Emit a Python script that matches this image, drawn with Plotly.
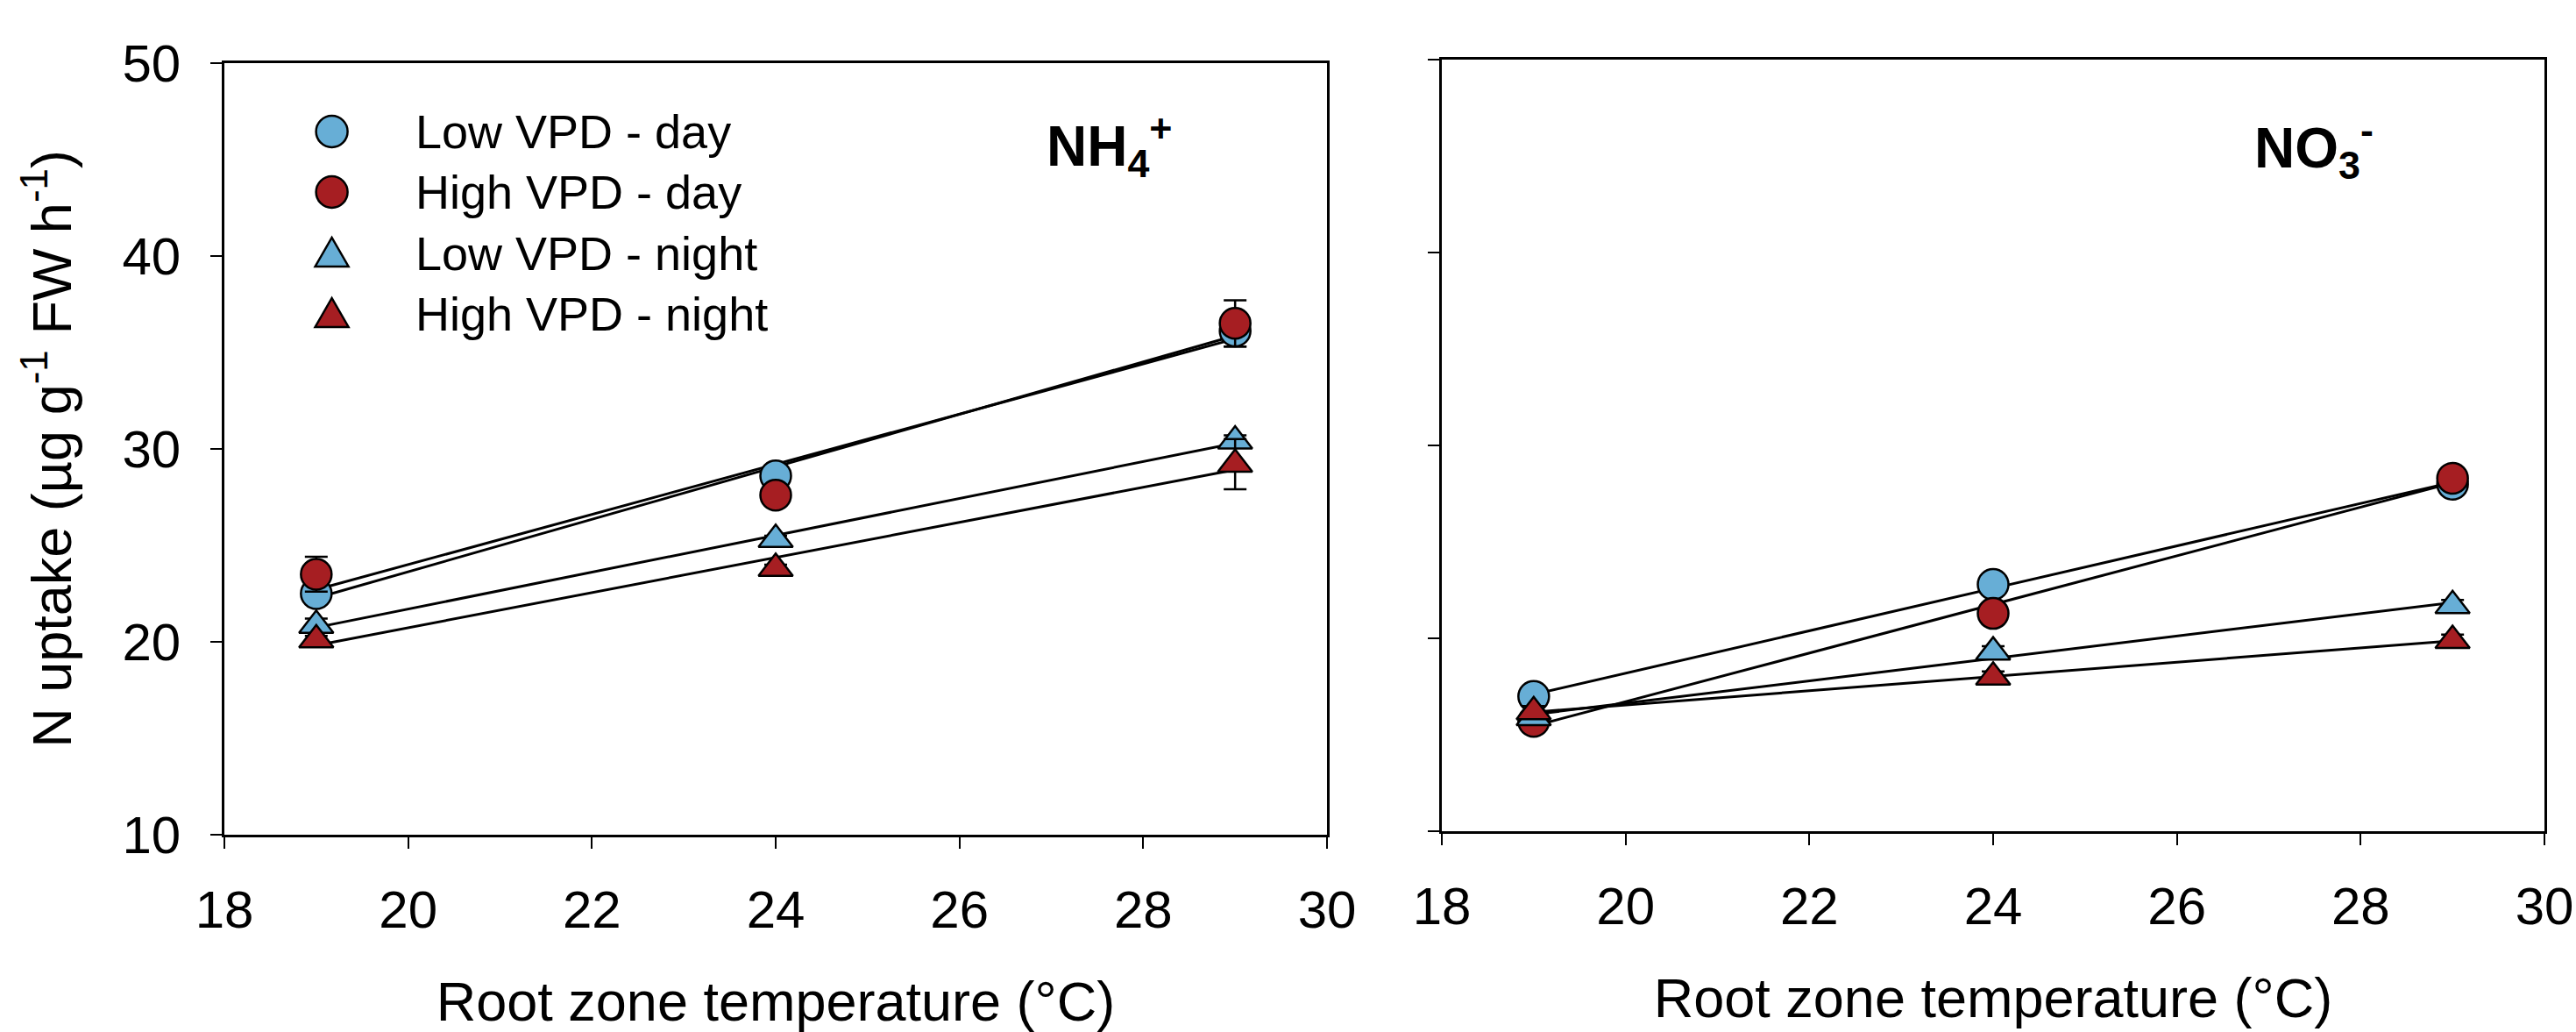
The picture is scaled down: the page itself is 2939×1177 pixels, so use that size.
import numpy as np
import plotly.graph_objects as go

# ---------------- data ----------------
temps = [19, 24, 29]
series_names = ["Low VPD - day", "High VPD - day", "Low VPD - night", "High VPD - night"]

# NH4+ panel
nh4_low_day = [22.5, 28.6, 36.1]
nh4_high_day = [23.5, 27.6, 36.5]
nh4_low_night = [20.85, 25.3, 30.4]
nh4_high_night = [20.1, 23.8, 29.2]
nh4_low_day_err = [0.3, 0.3, 0.8]
nh4_high_day_err = [0.9, 0.3, 1.2]
nh4_low_night_err = [0.35, 0.2, 0.3]
nh4_high_night_err = [0.2, 0.2, 1.3]

# NO3- panel
no3_low_day = [17.0, 22.8, 28.0]
no3_high_day = [15.7, 21.3, 28.3]
no3_low_night = [15.9, 19.3, 21.7]
no3_high_night = [16.2, 18.0, 19.9]
no3_low_day_err = [0.2, 0.2, 0.2]
no3_high_day_err = [0.2, 0.2, 0.2]
no3_low_night_err = [0.3, 0.3, 0.3]
no3_high_night_err = [0.3, 0.3, 0.3]

x_ticks = [18, 20, 22, 24, 26, 28, 30]
y_ticks = [10, 20, 30, 40, 50]

# ---------------- style ----------------
BLUE = "#67AED6"
RED = "#A61E22"
FONT = "Liberation Sans, Arial, sans-serif"
W, H = 2939, 1177

styles = [
    dict(color=BLUE, symbol="circle", size=35),
    dict(color=RED, symbol="circle", size=35),
    dict(color=BLUE, symbol="triangle-up", size=34),
    dict(color=RED, symbol="triangle-up", size=34),
]

panels = [
    ("x", "y", [nh4_low_day, nh4_high_day, nh4_low_night, nh4_high_night],
     [nh4_low_day_err, nh4_high_day_err, nh4_low_night_err, nh4_high_night_err]),
    ("x2", "y2", [no3_low_day, no3_high_day, no3_low_night, no3_high_night],
     [no3_low_day_err, no3_high_day_err, no3_low_night_err, no3_high_night_err]),
]

fig = go.Figure()

for xa, ya, vals, errs in panels:
    # regression lines
    for v in vals:
        slope, icpt = np.polyfit(temps, v, 1)
        xs = [min(temps), max(temps)]
        fig.add_trace(go.Scatter(
            x=xs, y=[slope * t + icpt for t in xs], mode="lines",
            line=dict(color="black", width=3), xaxis=xa, yaxis=ya,
            showlegend=False, hoverinfo="skip"))
    # markers
    for name, v, e, st in zip(series_names, vals, errs, styles):
        fig.add_trace(go.Scatter(
            x=temps, y=v, mode="markers", name=name, xaxis=xa, yaxis=ya,
            showlegend=False,
            marker=dict(color=st["color"], symbol=st["symbol"], size=st["size"],
                        line=dict(color="black", width=2.5)),
            error_y=dict(type="data", array=e, color="black", thickness=2.5, width=13)))

axis_common = dict(
    showline=True, linecolor="black", linewidth=2.5, mirror=True,
    ticks="outside", ticklen=13, tickwidth=2, tickcolor="black",
    showgrid=False, zeroline=False, automargin=False,
    tickfont=dict(family=FONT, size=60, color="black"),
)

xtitle = dict(text="Root zone temperature (°C)", font=dict(family=FONT, size=63, color="black"), standoff=55)

fig.update_layout(
    width=W, height=H, autosize=False,
    margin=dict(l=0, r=0, t=0, b=0, autoexpand=False),
    paper_bgcolor="white", plot_bgcolor="white",
    font=dict(family=FONT, color="black"),
    xaxis=dict(domain=[256 / W, 1514 / W], range=[18, 30], tickvals=x_ticks,
               anchor="y", title=xtitle, ticklabelstandoff=18, **axis_common),
    yaxis=dict(domain=[1 - 952 / H, 1 - 71.7 / H], range=[10, 50], tickvals=y_ticks,
               anchor="x", ticklabelstandoff=22,
               title=dict(text="N uptake (µg g<sup>-1</sup> FW h<sup>-1</sup>)",
                          font=dict(family=FONT, size=63, color="black"), standoff=38),
               **axis_common),
    xaxis2=dict(domain=[1645 / W, 2903 / W], range=[18, 30], tickvals=x_ticks,
                anchor="y2", title=dict(xtitle, standoff=50), ticklabelstandoff=18,
                **axis_common),
    yaxis2=dict(domain=[1 - 948.3 / H, 1 - 68 / H], range=[10, 50], tickvals=y_ticks,
                anchor="x2", showticklabels=False, **axis_common),
)

# ---------------- legend (drawn manually for large symbols) ----------------
leg_x_sym = 378.6 / W
leg_x_txt = 472 / W
leg_rows = [150, 219, 289, 358]
shapes = []
annots = []
for name, st, yrow in zip(series_names, styles, leg_rows):
    yp = 1 - yrow / H
    if st["symbol"] == "circle":
        shapes.append(dict(type="circle", xref="paper", yref="paper",
                           xsizemode="pixel", ysizemode="pixel",
                           xanchor=leg_x_sym, yanchor=yp,
                           x0=-18, x1=18, y0=-18, y1=18,
                           fillcolor=st["color"], line=dict(color="black", width=2.5)))
    else:
        shapes.append(dict(type="path", xref="paper", yref="paper",
                           xsizemode="pixel", ysizemode="pixel",
                           xanchor=leg_x_sym, yanchor=yp,
                           path="M -19,-15 L 19,-15 L 0,18 Z",
                           fillcolor=st["color"], line=dict(color="black", width=2.5)))
    annots.append(dict(text=name, xref="paper", yref="paper", x=leg_x_txt, y=yp,
                       xanchor="left", yanchor="middle", showarrow=False,
                       font=dict(family=FONT, size=54, color="black")))

annots.append(dict(text="<b>NH<sub>4</sub><sup>+</sup></b>", xref="paper", yref="paper",
                   x=1192 / W, y=1 - 166 / H, xanchor="left", yanchor="middle",
                   showarrow=False, font=dict(family=FONT, size=64, color="black")))
annots.append(dict(text="<b>NO<sub>3</sub><sup>-</sup></b>", xref="paper", yref="paper",
                   x=2570 / W, y=1 - 168 / H, xanchor="left", yanchor="middle",
                   showarrow=False, font=dict(family=FONT, size=64, color="black")))

fig.update_layout(shapes=shapes, annotations=annots)

fig.write_html("out.html")
